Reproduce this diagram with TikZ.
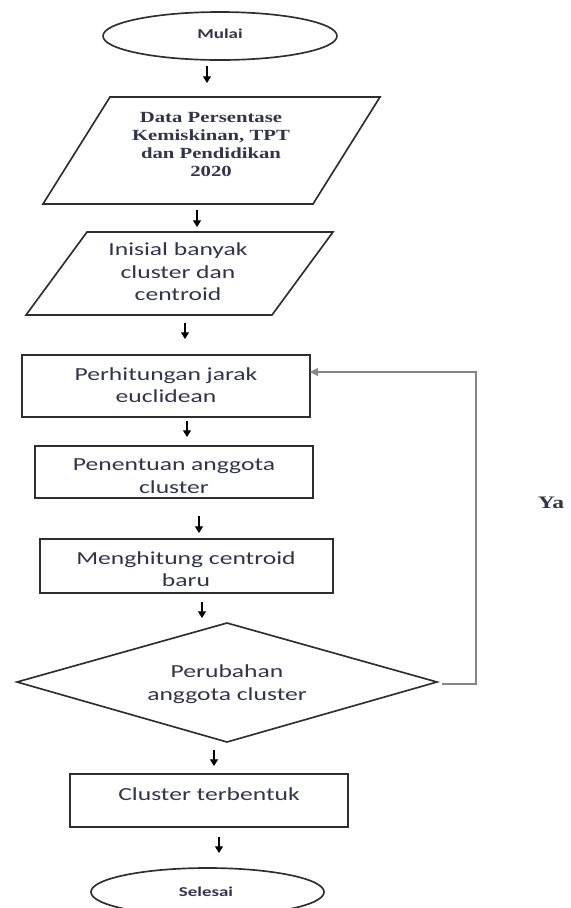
\documentclass[tikz,border=0pt]{standalone}
\usepackage{fontspec}
\usepackage{tikz}
\usetikzlibrary{arrows.meta, calc}
\newfontfamily\kalibri[FakeStretch=1.39]{Carlito}
\newfontfamily\kambria[FakeStretch=1.34]{Liberation Serif}
\definecolor{ink}{HTML}{33334A}
\definecolor{garis}{HTML}{2E2E2E}
\definecolor{abu}{HTML}{858585}
\tikzset{
  outline/.style={draw=garis, line width=1.25pt},
  teks/.style={inner sep=0pt, align=center, text=ink, font=\kalibri\fontsize{13.8pt}{16.9pt}\selectfont},
  teksserif/.style={inner sep=0pt, align=center, text=ink, font=\kambria\bfseries\fontsize{11.6pt}{13.5pt}\selectfont},
  tekskecil/.style={inner sep=0pt, text=ink, font=\kalibri\bfseries\fontsize{10.2pt}{12pt}\selectfont},
  arr/.style={draw=black, line width=0.8pt, -{Triangle[width=6pt,length=5pt]}},
  balik/.style={draw=abu, line width=0.8pt, -{Triangle[width=6pt,length=6pt]}}
}
\begin{document}
\begin{tikzpicture}[x=0.75pt, y=-0.75pt]
        \useasboundingbox (0,0) rectangle (571,908);
        \clip (0,0) rectangle (571,908);
        % Mulai
        \draw[outline] (220,36) ellipse [x radius=87.75pt, y radius=18pt];
        \node[tekskecil] (mulai) at (220,34) {Mulai};
        % Data input
        \draw[outline] (110,97) -- (380,97) -- (313,204) -- (43,204) -- cycle;
        \node[teksserif] (data) at (211,145) {Data Persentase\\Kemiskinan, TPT\\dan Pendidikan\\2020};
        % Inisial
        \draw[outline] (87,232) -- (333,232) -- (272,315) -- (26,315) -- cycle;
        \node[teks] (inisial) at (178,272) {Inisial banyak\\cluster dan\\centroid};
        % Proses
        \draw[outline] (22,355) rectangle (310,417);
        \node[teks] (jarak) at (166,385) {Perhitungan jarak\\euclidean};
        \draw[outline] (35,446) rectangle (313,498);
        \node[teks] (anggota) at (174,476) {Penentuan anggota\\cluster};
        \draw[outline] (40,539) rectangle (333,593);
        \node[teks] (centroid) at (186,569) {Menghitung centroid\\baru};
        % Keputusan
        \draw[outline] (227,623) -- (437,682) -- (227,742) -- (17,682) -- cycle;
        \node[teks] (ubah) at (227,684) {Perubahan\\anggota cluster};
        % Hasil
        \draw[outline] (70,774) rectangle (348,827);
        \node[teks] (hasil) at (209,794) {Cluster terbentuk};
        % Selesai
        \draw[outline] (207.5,892) ellipse [x radius=87.4pt, y radius=18pt];
        \node[tekskecil] (selesai) at (206,892) {Selesai};
        % Panah antar langkah
        \foreach \n/\x/\ya/\yb in {1/207/66/83, 2/197/210/227, 3/185/323/339, 4/187/421/437,
                                  5/199/516/533, 6/202/602/618, 7/214/750/766, 8/219/837/853}{
          \coordinate (p\n) at (\x,\ya);
          \coordinate (q\n) at (\x,\yb);
          \draw[arr] (p\n) -- (q\n);
        }
        % Kembali ke perhitungan jarak
        \coordinate (k1) at (442,684);
        \coordinate (k2) at (476,684);
        \coordinate (k3) at (476,372);
        \coordinate (k4) at (310,372);
        \draw[balik] (k1) -- (k2) -- (k3) -- (k4);
        \node[teksserif, font=\kambria\bfseries\fontsize{13.2pt}{15pt}\selectfont] (ya) at (551,503) {Ya};
\end{tikzpicture}
\end{document}
